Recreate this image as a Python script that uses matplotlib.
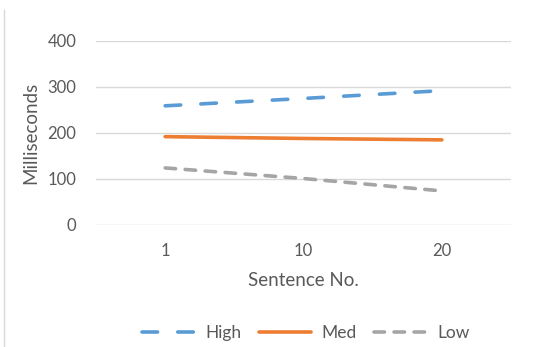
import matplotlib
matplotlib.use("Agg")
import matplotlib.pyplot as plt
from matplotlib.lines import Line2D

categories = ["1", "10", "20"]
high = [258, 274, 291]
med = [191, 187, 184]
low = [123, 100, 73]
series_names = ["High", "Med", "Low"]
yticks = [0, 100, 200, 300, 400]

plt.rcParams['font.family'] = ['Lato', 'DejaVu Sans']

fig = plt.figure(figsize=(5.45, 3.47), dpi=100)
ax = fig.add_axes([96/545, 1-224.5/347, (511-96)/545, (224.5-40.5)/347])

x = list(range(len(categories)))
lw = 2.6
ax.plot(x, high, color='#5B9BD5', lw=lw, dashes=(4.3, 5.6), dash_capstyle='round', solid_capstyle='round', label=series_names[0])
ax.plot(x, med, color='#ED7D31', lw=lw, solid_capstyle='round', label=series_names[1])
ax.plot(x, low, color='#A5A5A5', lw=lw, dashes=(2.9, 2.65), dash_capstyle='round', label=series_names[2])

ax.set_xlim(-0.5, len(categories) - 0.5)
ax.set_ylim(0, 400)
ax.set_yticks(yticks)
ax.set_xticks(x)
ax.set_xticklabels(categories)
ax.grid(axis='y', color='#D9D9D9', lw=1)
ax.set_axisbelow(True)
for s in ax.spines.values():
    s.set_visible(False)
ax.tick_params(length=0, labelsize=12, colors='#595959')
ax.tick_params(axis='y', pad=14)
ax.tick_params(axis='x', pad=13)
ax.set_ylabel("Milliseconds", fontsize=13.5, color='#595959', labelpad=6)
ax.set_xlabel("Sentence No.", fontsize=13.5, color='#595959', labelpad=10)

leg = fig.legend(loc='center', bbox_to_anchor=(306/545, 1-333/347), ncol=3, frameon=False,
                 fontsize=12.5, handlelength=3.0, columnspacing=1.0, handletextpad=0.63)
for t in leg.get_texts():
    t.set_color('#595959')

fig.add_artist(Line2D([3.5/545, 3.5/545], [0, 1-10/347], transform=fig.transFigure, color='#D9D9D9', lw=1))

fig.savefig("out.png", dpi=100)
